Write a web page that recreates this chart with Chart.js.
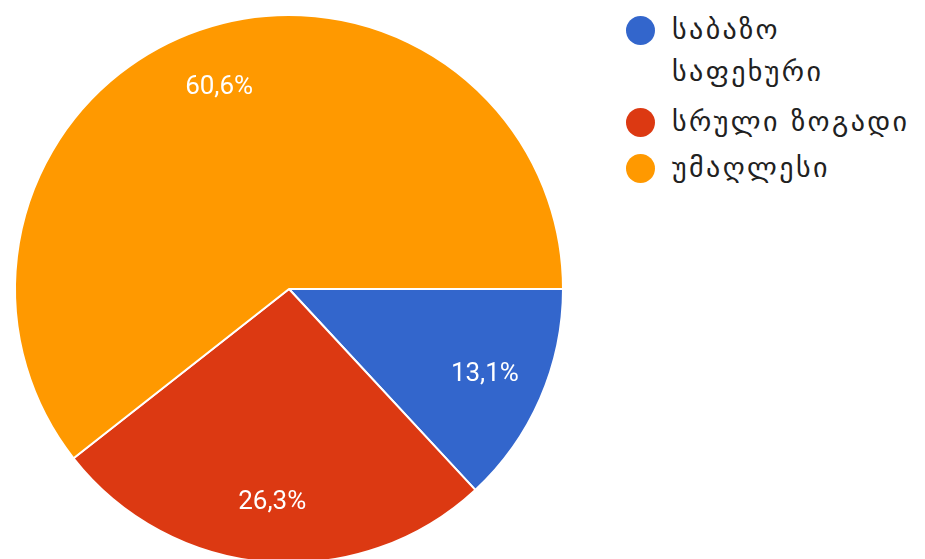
<!DOCTYPE html>
<html>
<head>
<meta charset="utf-8">
<script src="https://cdn.jsdelivr.net/npm/chart.js@4"></script>
<style>
  html, body { margin: 0; padding: 0; background: #fff; overflow: hidden; }
  body { width: 925px; height: 559px; position: relative; }
  #wrap { position: absolute; left: 0; top: 0; width: 578px; height: 578px; }
  #legend { position: absolute; left: 626px; top: 0; font-family: 'DejaVu Sans', sans-serif; color: #212121; }
  .item { position: absolute; white-space: nowrap; padding-left: 46px; font-size: 28px; letter-spacing: 2.4px; line-height: 42px; }
  .dot { position: absolute; left: 0; width: 29px; height: 29px; border-radius: 50%; top: 7px; }
</style>
</head>
<body>
<div id="wrap"><canvas id="pie" width="578" height="578"></canvas></div>
<div id="legend"></div>
<script>
const labels = [['საბაზო', 'საფეხური'], 'სრული ზოგადი', 'უმაღლესი'];
const values = [13.1, 26.3, 60.6];
const colors = ['#3366CC', '#DC3912', '#FF9900'];

// white percentage text inside each slice
const sliceLabels = {
  id: 'sliceLabels',
  afterDatasetsDraw(chart) {
    const ctx = chart.ctx;
    const arcs = chart.getDatasetMeta(0).data;
    ctx.save();
    ctx.font = '26px Roboto';
    ctx.fillStyle = '#ffffff';
    ctx.textAlign = 'center';
    ctx.textBaseline = 'middle';
    arcs.forEach((arc, i) => {
      const p = arc.getProps(['x', 'y', 'startAngle', 'endAngle', 'outerRadius'], true);
      const mid = (p.startAngle + p.endAngle) / 2;
      const r = p.outerRadius * 0.78;
      const txt = values[i].toFixed(1).replace('.', ',') + '%';
      ctx.fillText(txt, p.x + Math.cos(mid) * r, p.y + Math.sin(mid) * r);
    });
    ctx.restore();
  }
};

new Chart(document.getElementById('pie'), {
  type: 'pie',
  data: {
    labels: labels,
    datasets: [{
      data: values,
      backgroundColor: colors,
      borderColor: '#ffffff',
      borderWidth: 2
    }]
  },
  options: {
    responsive: false,
    animation: false,
    rotation: 90,
    layout: { padding: 14 },
    plugins: {
      legend: { display: false },
      tooltip: { enabled: false }
    }
  },
  plugins: [sliceLabels]
});

const legendEl = document.getElementById('legend');
const tops = [9, 101, 147];
labels.forEach((lab, i) => {
  const div = document.createElement('div');
  div.className = 'item';
  div.style.top = tops[i] + 'px';
  const dot = document.createElement('span');
  dot.className = 'dot';
  dot.style.background = colors[i];
  div.appendChild(dot);
  const text = Array.isArray(lab) ? lab : [lab];
  text.forEach((t, j) => {
    if (j > 0) div.appendChild(document.createElement('br'));
    div.appendChild(document.createTextNode(t));
  });
  legendEl.appendChild(div);
});
</script>
</body>
</html>
